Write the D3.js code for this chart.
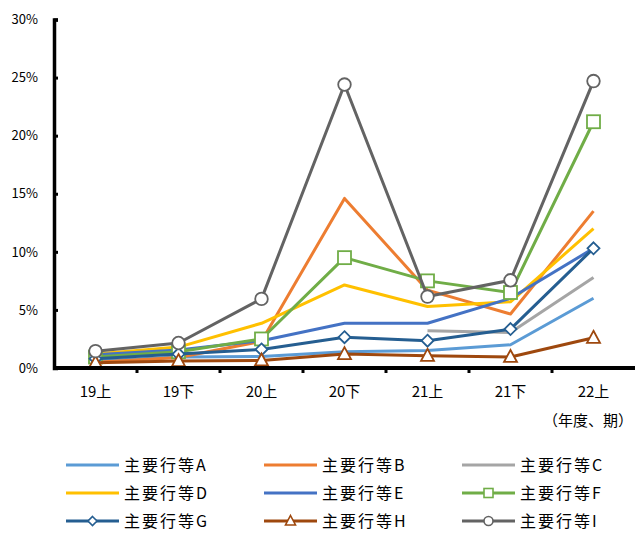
<!DOCTYPE html>
<html>
<head>
<meta charset="utf-8">
<script src="https://cdn.jsdelivr.net/npm/d3@7"></script>
<style>
  html, body { margin: 0; padding: 0; background: #fff; }
  svg { display: block; font-family: "Noto Sans CJK JP", "Noto Sans", sans-serif; }
</style>
</head>
<body>
<svg id="chart" width="635" height="533"></svg>
<script>
// Periods (fiscal half-years)
const categories = ["19上", "19下", "20上", "20下", "21上", "21下", "22上"];

// Ratios in percent, one array per bank group
const seriesA = [0.6, 0.95, 1.0, 1.4, 1.5, 2.0, 6.0];
const seriesB = [0.5, 0.9, 2.3, 14.6, 6.7, 4.65, 13.5];
const seriesC = [null, null, null, null, 3.2, 3.05, 7.8];
const seriesD = [1.2, 1.8, 3.85, 7.15, 5.3, 5.7, 12.0];
const seriesE = [1.15, 1.55, 2.35, 3.85, 3.85, 6.0, 10.3];
const seriesF = [0.95, 1.4, 2.5, 9.5, 7.5, 6.5, 21.2];
const seriesG = [0.8, 1.2, 1.6, 2.65, 2.35, 3.35, 10.3];
const seriesH = [0.45, 0.6, 0.65, 1.2, 1.05, 0.95, 2.6];
const seriesI = [1.45, 2.15, 5.95, 24.4, 6.15, 7.55, 24.7];

const seriesNames = ["主要行等A", "主要行等B", "主要行等C", "主要行等D", "主要行等E",
                     "主要行等F", "主要行等G", "主要行等H", "主要行等I"];
const seriesValues = [seriesA, seriesB, seriesC, seriesD, seriesE, seriesF, seriesG, seriesH, seriesI];
const seriesColors = ["#5B9BD5", "#ED7D31", "#A5A5A5", "#FFC000", "#4472C4",
                      "#70AD47", "#255E91", "#9E480E", "#636363"];
const seriesMarkers = [null, null, null, null, null, "square", "diamond", "triangle", "circle"];

const yTicks = [0, 5, 10, 15, 20, 25, 30];
const unitLabel = "（年度、期）";

const svg = d3.select("#chart");

const x = d3.scaleBand().domain(categories).range([54, 635]);
const y = d3.scaleLinear().domain([0, 30]).range([368, 19.5]);
const cx = d => x(d) + x.bandwidth() / 2;

// Y axis
const yAxis = svg.append("g").attr("transform", "translate(54,0)")
  .call(d3.axisRight(y).tickValues(yTicks).tickSize(4).tickFormat(() => ""));
yAxis.select(".domain").attr("stroke", "#000").attr("stroke-width", 3.5);
yAxis.selectAll(".tick line").attr("stroke", "#000").attr("stroke-width", 3);

svg.append("g").selectAll("text").data(yTicks).join("text")
  .attr("x", 38).attr("y", d => y(d)).attr("dy", "0.36em")
  .attr("text-anchor", "end").attr("font-size", 13).attr("fill", "#000")
  .text(d => d + "%");

// X axis with ticks at band boundaries
const bounds = categories.map(c => x(c)).concat([x.range()[1]]);
svg.append("g").selectAll("line").data(bounds.slice(1, -1)).join("line")
  .attr("x1", d => d).attr("x2", d => d).attr("y1", 368).attr("y2", 373)
  .attr("stroke", "#000").attr("stroke-width", 3);

svg.append("g").selectAll("text").data(categories).join("text")
  .attr("x", d => cx(d)).attr("y", 392).attr("dy", "0.36em")
  .attr("text-anchor", "middle").attr("font-size", 15).attr("fill", "#000")
  .text(d => d);

svg.append("text").attr("x", 633).attr("y", 421).attr("dy", "0.36em")
  .attr("text-anchor", "end").attr("font-size", 15).attr("fill", "#000")
  .text(unitLabel);

// Markers
function drawMarker(g, type, color, px, py) {
  if (type === "circle") {
    g.append("circle").attr("cx", px).attr("cy", py).attr("r", 6.3)
      .attr("fill", "#fff").attr("stroke", color).attr("stroke-width", 1.8);
  } else if (type === "square") {
    g.append("rect").attr("x", px - 6.5).attr("y", py - 6.5).attr("width", 13).attr("height", 13)
      .attr("fill", "#fff").attr("stroke", color).attr("stroke-width", 1.8);
  } else if (type === "diamond") {
    const s = 6;
    g.append("path").attr("d", `M${px},${py - s}L${px + s},${py}L${px},${py + s}L${px - s},${py}Z`)
      .attr("fill", "#fff").attr("stroke", color).attr("stroke-width", 1.8);
  } else if (type === "triangle") {
    g.append("path").attr("d", `M${px},${py - 7}L${px + 6.5},${py + 5}L${px - 6.5},${py + 5}Z`)
      .attr("fill", "#fff").attr("stroke", color).attr("stroke-width", 1.8);
  }
}

// Series lines
const line = d3.line()
  .defined(d => d.v !== null)
  .x(d => cx(d.c))
  .y(d => y(d.v));

const plot = svg.append("g");
seriesValues.forEach((vals, i) => {
  const pts = categories.map((c, j) => ({ c, v: vals[j] }));
  const g = plot.append("g");
  g.append("path").datum(pts).attr("d", line)
    .attr("fill", "none").attr("stroke", seriesColors[i]).attr("stroke-width", 3)
    .attr("stroke-linejoin", "round");
  if (seriesMarkers[i]) {
    pts.filter(p => p.v !== null).forEach(p =>
      drawMarker(g, seriesMarkers[i], seriesColors[i], cx(p.c), y(p.v)));
  }
});

// Redraw the x axis line over the series
svg.append("line").attr("x1", 54).attr("x2", 635).attr("y1", 368).attr("y2", 368)
  .attr("stroke", "#000").attr("stroke-width", 4);

// Legend
const legendCols = [66, 264, 462];
const legendRows = [465, 493, 521];
seriesNames.forEach((name, i) => {
  const lx = legendCols[i % 3], ly = legendRows[Math.floor(i / 3)];
  const g = svg.append("g");
  g.append("line").attr("x1", lx).attr("x2", lx + 53).attr("y1", ly).attr("y2", ly)
    .attr("stroke", seriesColors[i]).attr("stroke-width", 3);
  if (seriesMarkers[i]) {
    const m = seriesMarkers[i];
    const mx = lx + 26.5;
    if (m === "circle") {
      g.append("circle").attr("cx", mx).attr("cy", ly).attr("r", 4.5)
        .attr("fill", "#fff").attr("stroke", seriesColors[i]).attr("stroke-width", 1.6);
    } else if (m === "square") {
      g.append("rect").attr("x", mx - 4.5).attr("y", ly - 4.5).attr("width", 9).attr("height", 9)
        .attr("fill", "#fff").attr("stroke", seriesColors[i]).attr("stroke-width", 1.6);
    } else if (m === "diamond") {
      g.append("path").attr("d", `M${mx},${ly - 4.5}L${mx + 4.5},${ly}L${mx},${ly + 4.5}L${mx - 4.5},${ly}Z`)
        .attr("fill", "#fff").attr("stroke", seriesColors[i]).attr("stroke-width", 1.6);
    } else if (m === "triangle") {
      g.append("path").attr("d", `M${mx},${ly - 5.5}L${mx + 5},${ly + 4}L${mx - 5},${ly + 4}Z`)
        .attr("fill", "#fff").attr("stroke", seriesColors[i]).attr("stroke-width", 1.6);
    }
  }
  g.append("text").attr("x", lx + 58).attr("y", ly).attr("dy", "0.36em")
    .attr("font-size", 16).attr("letter-spacing", 2).attr("fill", "#000").text(name);
});
</script>
</body>
</html>
